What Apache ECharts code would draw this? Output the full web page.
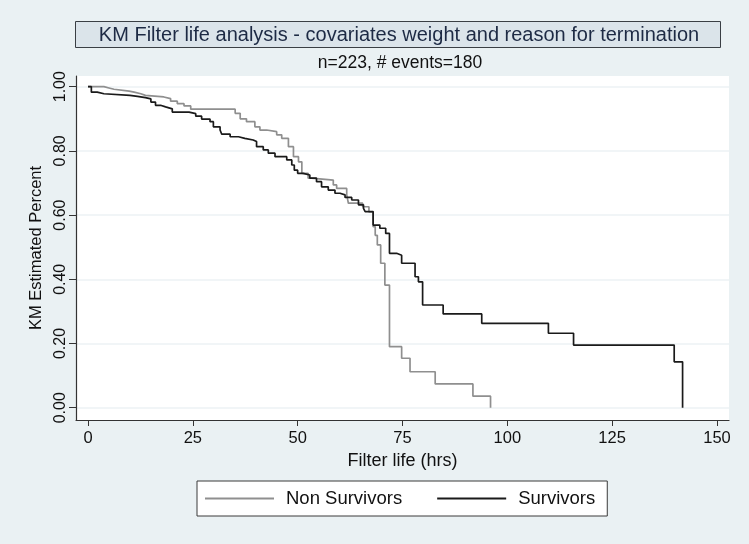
<!DOCTYPE html>
<html>
<head>
<meta charset="utf-8">
<script src="https://cdn.jsdelivr.net/npm/echarts@6/dist/echarts.min.js"></script>
<style>
html,body{margin:0;padding:0;background:#eaf1f3;}
#chart{width:749px;height:544px;}
</style>
</head>
<body>
<div id="chart"></div>
<script>
const titleText = 'KM Filter life analysis - covariates weight and reason for termination';
const subtitleText = 'n=223, # events=180';
const xAxisTitle = 'Filter life (hrs)';
const yAxisTitle = 'KM Estimated Percent';
const seriesNames = ['Non Survivors', 'Survivors'];
const xTicks = [0, 25, 50, 75, 100, 125, 150];
const yTicks = [0, 0.2, 0.4, 0.6, 0.8, 1.0];

const nonSurvTime = [0, 3.8, 5.0, 6.2, 9.8, 11.0, 12.6, 13.7, 18.1, 19.7, 21.3, 22.9, 24.5, 35.1, 36.3, 37.8, 39.8, 41.0, 42.6, 45.0, 46.2, 47.8, 49.0, 50.2, 51.0, 52.5, 53.3, 58.5, 59.3, 61.7, 62.1, 65.5, 67.0, 68.0, 68.5, 69.0, 69.8, 70.8, 71.9, 74.8, 76.8, 82.8, 91.8, 96.0];
const nonSurvKM   = [1.0, 0.996, 0.992, 0.986, 0.983, 0.978, 0.973, 0.968, 0.963, 0.955, 0.947, 0.94, 0.93, 0.917, 0.90, 0.891, 0.875, 0.865, 0.86, 0.85, 0.839, 0.813, 0.782, 0.766, 0.73, 0.715, 0.709, 0.694, 0.683, 0.663, 0.637, 0.626, 0.61, 0.564, 0.537, 0.507, 0.45, 0.382, 0.19, 0.154, 0.112, 0.074, 0.036, 0.0];

const survTime = [0, 0.8, 2.2, 3.8, 10.0, 11.8, 13.7, 15.0, 16.1, 17.3, 18.5, 20.1, 24.1, 25.7, 27.1, 29.1, 29.9, 31.5, 31.9, 33.9, 35.9, 37.4, 39.4, 40.2, 41.8, 43.0, 44.6, 47.4, 48.6, 49.2, 50.0, 51.3, 52.9, 54.5, 55.7, 57.3, 58.9, 60.1, 61.3, 62.9, 64.5, 65.7, 66.1, 68.0, 69.6, 71.0, 71.9, 73.6, 74.8, 78.0, 78.8, 79.8, 84.7, 93.9, 109.8, 115.8, 139.8, 141.8];
const survKM   = [1.0, 0.983, 0.978, 0.973, 0.97, 0.966, 0.962, 0.952, 0.942, 0.937, 0.931, 0.921, 0.916, 0.908, 0.899, 0.891, 0.875, 0.865, 0.852, 0.844, 0.839, 0.834, 0.829, 0.813, 0.803, 0.793, 0.782, 0.772, 0.756, 0.74, 0.73, 0.725, 0.715, 0.704, 0.688, 0.678, 0.668, 0.663, 0.655, 0.647, 0.632, 0.621, 0.611, 0.569, 0.559, 0.543, 0.481, 0.475, 0.45, 0.408, 0.392, 0.32, 0.292, 0.263, 0.232, 0.195, 0.143, 0.0];

const FONT = "'Liberation Sans', Arial, Helvetica, sans-serif";
const pairs = (xs, ys) => xs.map((x, i) => [x, ys[i]]);

const chart = echarts.init(document.getElementById('chart'));
chart.setOption({
  backgroundColor: '#eaf1f3',
  animation: false,
  graphic: [
    { type: 'rect', shape: { x: 75.5, y: 21.5, width: 645, height: 26 },
      style: { fill: '#dbe4ea', stroke: '#3a3f44', lineWidth: 1 }, z: 10 },
    { type: 'text', x: 399, y: 35, z: 11,
      style: { text: titleText, align: 'center', verticalAlign: 'middle',
               font: '20px ' + FONT, fill: '#1d2a44' } },
    { type: 'text', x: 400, y: 63, z: 11,
      style: { text: subtitleText, align: 'center', verticalAlign: 'middle',
               font: '17.5px ' + FONT, fill: '#111' } }
  ],
  grid: { left: 76, right: 20, top: 76, bottom: 124, show: true,
          backgroundColor: '#ffffff', borderWidth: 0 },
  legend: {
    data: seriesNames,
    left: 197, top: 481, orient: 'horizontal',
    backgroundColor: '#ffffff', borderColor: '#3a3a3a', borderWidth: 1,
    padding: [8, 12, 8, 8], itemGap: 35,
    icon: 'rect', itemWidth: 69, itemHeight: 2,
    textStyle: { fontFamily: FONT, fontSize: 18.5, color: '#111', lineHeight: 19, padding: [0, 0, 0, 7] }
  },
  xAxis: {
    type: 'value', min: -2.86, max: 152.87,
    name: xAxisTitle, nameLocation: 'middle', nameGap: 32,
    nameTextStyle: { fontFamily: FONT, fontSize: 18, color: '#111' },
    axisLine: { show: true, onZero: false, lineStyle: { color: '#333', width: 1.2 } },
    axisTick: { show: true, length: 6, customValues: xTicks, lineStyle: { color: '#333' } },
    axisLabel: { customValues: xTicks, margin: 10, fontFamily: FONT, fontSize: 16.5, color: '#111' },
    splitLine: { show: false }
  },
  yAxis: {
    type: 'value', min: -0.0383, max: 1.0333,
    name: yAxisTitle, nameLocation: 'middle', nameGap: 30, nameRotate: 90,
    nameTextStyle: { fontFamily: FONT, fontSize: 16.5, color: '#111' },
    axisLine: { show: true, onZero: false, lineStyle: { color: '#333', width: 1.2 } },
    axisTick: { show: true, length: 7, customValues: yTicks, lineStyle: { color: '#333' } },
    axisLabel: { customValues: yTicks, rotate: 90, margin: 7, fontFamily: FONT, fontSize: 16, color: '#111',
                 formatter: v => v.toFixed(2) },
    splitLine: { show: true, lineStyle: { color: '#edf2f4', width: 1.5 } }
  },
  series: [
    { name: seriesNames[0], type: 'line', step: 'end', showSymbol: false, symbol: 'none',
      data: pairs(nonSurvTime, nonSurvKM),
      itemStyle: { color: '#8f8f8f' }, lineStyle: { color: '#8f8f8f', width: 1.7 } },
    { name: seriesNames[1], type: 'line', step: 'end', showSymbol: false, symbol: 'none',
      data: pairs(survTime, survKM),
      itemStyle: { color: '#1a1a1a' }, lineStyle: { color: '#1a1a1a', width: 1.7 } }
  ]
});
</script>
</body>
</html>
